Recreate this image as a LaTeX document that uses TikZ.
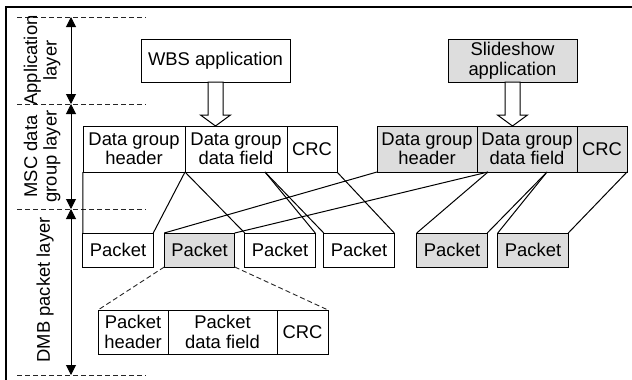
\documentclass[tikz,border=0pt]{standalone}
\usepackage{fontspec}
\setmainfont{Liberation Sans}
\usetikzlibrary{arrows.meta,calc}
\definecolor{cellgray}{RGB}{221,221,221}
\begin{document}
\begin{tikzpicture}[x=1pt,y=-1pt,
  every node/.style={font=\fontsize{18.4}{19.5}\selectfont},
  cell/.style={draw, line width=1pt, inner sep=0pt, outer sep=0pt, align=center, minimum height=46},
  pkt/.style={draw, line width=1pt, inner sep=0pt, outer sep=0pt, minimum width=70.5, minimum height=34},
  dcell/.style={draw, line width=1pt, inner sep=0pt, outer sep=0pt, align=center, minimum height=44},
  appbox/.style={draw, line width=1pt, inner sep=0pt, outer sep=0pt, align=center, minimum height=43},
  grayfill/.style={fill=cellgray},
  link/.style={line width=1pt},
  guide/.style={dash pattern=on 5pt off 3pt, line width=0.9pt, draw=black!85},
  span/.style={{Triangle[length=10pt,width=10pt]}-{Triangle[length=10pt,width=10pt]}, line width=1pt},
  layer/.style={rotate=90, align=center},
  hollow/.style={draw, line width=1pt, fill=white}
]
\useasboundingbox (0,0) rectangle (632,380);
% frame
\draw[line width=1.2pt] (6,380) -- (6,7) -- (632,7);

% layer guides
\draw[guide] (17,17) -- (146,17);
\draw[guide] (17,104) -- (146,104);
\draw[guide] (17,209) -- (146,209);
\draw[guide] (17,375) -- (146,375);
\coordinate (l0) at (71,17);
\coordinate (l1) at (71,104);
\coordinate (l2) at (71,209);
\coordinate (l3) at (71,375);
\draw[span] (l0) -- (l1);
\draw[span] (l1) -- (l2);
\draw[span] (l2) -- (l3);
\node[layer] (lab1) at (42,60.5) {Application\\layer};
\node[layer] (lab2) at (42,156.5) {MSC data\\group layer};
\node[layer] (lab3) at (45,290) {DMB packet layer};

% applications
\node[appbox, minimum width=149] (wbs) at (215.5,60.5) {WBS application};
\node[appbox, grayfill, minimum width=129] (sls) at (512.5,60.5) {Slideshow\\application};

% data group rows
\node[cell, minimum width=102] (h1) at (134,149) {Data group\\header};
\node[cell, minimum width=102] (f1) at (236,149) {Data group\\data field};
\node[cell, minimum width=50] (c1) at (312,149) {CRC};
\node[cell, grayfill, minimum width=100] (h2) at (427,149) {Data group\\header};
\node[cell, grayfill, minimum width=100] (f2) at (527,149) {Data group\\data field};
\node[cell, grayfill, minimum width=50] (c2) at (602,149) {CRC};

% hollow arrows
\draw[hollow] (wbs.south) ++(-7.5,0) -- ++(0,33) -- ++(-7.5,0) -- ++(15,11) -- ++(15,-11) -- ++(-7.5,0) -- ++(0,-33) -- cycle;
\draw[hollow] (sls.south) ++(-7.5,0) -- ++(0,33) -- ++(-7.5,0) -- ++(15,11) -- ++(15,-11) -- ++(-7.5,0) -- ++(0,-33) -- cycle;

% packets
\node[pkt] (p1) at (118,250) {Packet};
\node[pkt, grayfill] (p2) at (199.5,250) {Packet};
\node[pkt] (p3) at (280,250) {Packet};
\node[pkt] (p4) at (359,250) {Packet};
\node[pkt, grayfill] (p5) at (452,250) {Packet};
\node[pkt, grayfill] (p6) at (533,250) {Packet};

% packet detail
\node[dcell, minimum width=70] (d1) at (133,332) {Packet\\header};
\node[dcell, minimum width=109] (d2) at (222.5,332) {Packet\\data field};
\node[dcell, minimum width=51] (d3) at (302.5,332) {CRC};

% links row 1
\draw[link] (h1.south west) -- (p1.north west);
\draw[link] (h1.south east) -- (p1.north east);
\draw[link] (h1.south east) -- (p3.north west);
\coordinate (f1a) at ($(f1.south west)!0.784!(f1.south east)$);
\draw[link] (f1a) -- (p3.north east);
\draw[link] (f1a) -- (p4.north west);
\draw[link] (c1.south east) -- (p4.north east);
% links row 2
\draw[link] (h2.south west) -- (p2.north west);
\coordinate (f2a) at ($(f2.south west)!0.11!(f2.south east)$);
\draw[link] (f2a) -- (p2.north east);
\draw[link] (f2a) -- (p5.north west);
\coordinate (f2b) at ($(f2.south west)!0.70!(f2.south east)$);
\draw[link] (f2b) -- (p5.north east);
\draw[link] (f2b) -- (p6.north west);
\draw[link] (c2.south east) -- (p6.north east);
% expansion
\draw[guide] (p2.south west) -- (d1.north west);
\draw[guide] (p2.south east) -- (d3.north east);
\end{tikzpicture}
\end{document}
